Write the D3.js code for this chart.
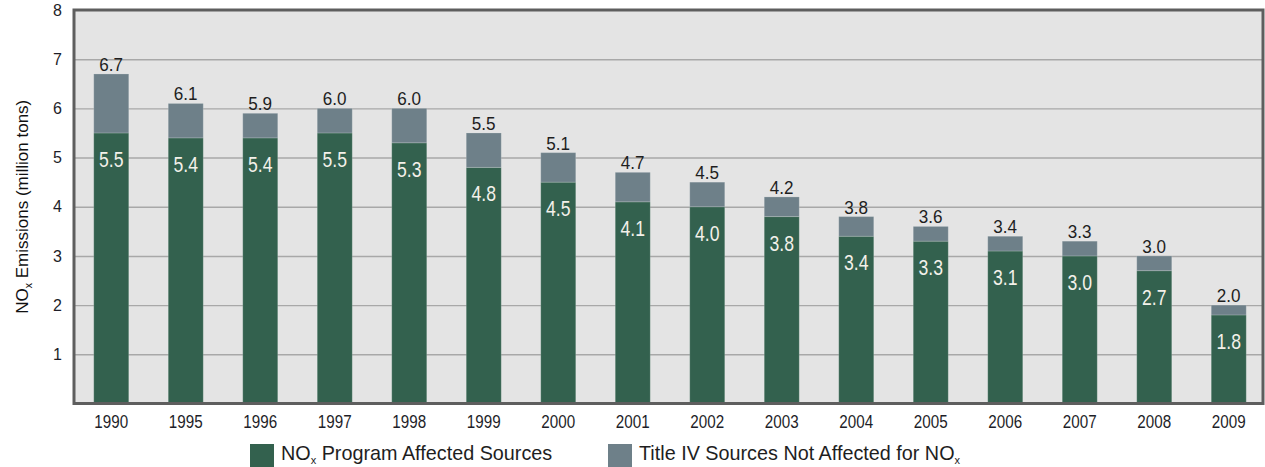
<!DOCTYPE html>
<html>
<head>
<meta charset="utf-8">
<script src="https://cdn.jsdelivr.net/npm/d3@7"></script>
<style>
  html, body { margin: 0; background: #ffffff; }
  svg { display: block; }
  text { font-family: "Liberation Sans", Arial, "DejaVu Sans", sans-serif; }
</style>
</head>
<body>
<svg id="chart" width="1265" height="467"></svg>
<script>
// NOx emissions by year (million tons)
const years = ["1990", "1995", "1996", "1997", "1998", "1999", "2000", "2001",
               "2002", "2003", "2004", "2005", "2006", "2007", "2008", "2009"];
// NOx Program affected sources
const programSources = [5.5, 5.4, 5.4, 5.5, 5.3, 4.8, 4.5, 4.1, 4.0, 3.8, 3.4, 3.3, 3.1, 3.0, 2.7, 1.8];
// Title IV sources not affected for NOx
const otherSources = [1.2, 0.7, 0.5, 0.5, 0.7, 0.7, 0.6, 0.6, 0.5, 0.4, 0.4, 0.3, 0.3, 0.3, 0.3, 0.2];
const yTicks = [1, 2, 3, 4, 5, 6, 7, 8];
const seriesKeys = ["program", "other"];
const seriesColors = { program: "#33614E", other: "#6E8089" };

const rows = years.map((y, i) => ({ year: y, program: programSources[i], other: otherSources[i] }));
const stacked = d3.stack().keys(seriesKeys)(rows);

const svg = d3.select("#chart");
const plot = { left: 74, right: 1263, top: 10, bottom: 403.5 };

const x = d3.scaleBand()
  .domain(years)
  .range([plot.left, 1266])
  .paddingInner(0.53)
  .paddingOuter(0.265);

const y = d3.scaleLinear()
  .domain([0, 8])
  .range([plot.bottom, plot.top]);

// plot background
svg.append("rect")
  .attr("x", plot.left).attr("y", plot.top)
  .attr("width", plot.right - plot.left).attr("height", plot.bottom - plot.top)
  .attr("fill", "#E4E4E4");

// horizontal gridlines
const grid = svg.append("g")
  .attr("transform", `translate(${plot.left},0)`)
  .call(d3.axisLeft(y).tickValues(yTicks.slice(0, -1)).tickSize(-(plot.right - plot.left)).tickFormat(""));
grid.select(".domain").remove();
grid.selectAll("line").attr("stroke", "#A8A8A8").attr("stroke-width", 1.4);

// stacked bars
svg.append("g")
  .selectAll("g")
  .data(stacked)
  .join("g")
  .attr("fill", d => seriesColors[d.key])
  .selectAll("rect")
  .data(d => d)
  .join("rect")
  .attr("x", d => x(d.data.year))
  .attr("width", x.bandwidth())
  .attr("y", d => y(d[1]))
  .attr("height", d => y(d[0]) - y(d[1]))
  .attr("stroke", "rgba(255,255,255,0.18)")
  .attr("stroke-width", 1);

// frame
svg.append("rect")
  .attr("x", plot.left).attr("y", plot.top)
  .attr("width", plot.right - plot.left).attr("height", plot.bottom - plot.top)
  .attr("fill", "none")
  .attr("stroke", "#5E5E5E")
  .attr("stroke-width", 3);

// helper for horizontally condensed text
function label(g, tx, ty, str, size, sx, fill, anchor) {
  return g.append("text")
    .attr("transform", `translate(${tx},${ty}) scale(${sx},1)`)
    .attr("text-anchor", anchor || "middle")
    .attr("font-size", size)
    .attr("fill", fill)
    .text(str);
}

// y axis tick labels
const yAxis = svg.append("g")
  .attr("transform", `translate(${plot.left - 12},0)`)
  .call(d3.axisLeft(y).tickValues(yTicks).tickSize(0).tickPadding(0).tickFormat(d3.format("d")));
yAxis.select(".domain").remove();
yAxis.selectAll("text")
  .attr("font-size", 16)
  .attr("fill", "#1E1E28")
  .attr("font-family", "'Liberation Sans', Arial, sans-serif");

// x axis tick labels
const xAxis = svg.append("g")
  .attr("transform", `translate(0,${plot.bottom})`)
  .call(d3.axisBottom(x).tickSize(0).tickPadding(0));
xAxis.select(".domain").remove();
xAxis.selectAll("text").remove();
xAxis.selectAll(".tick").each(function (d) {
  label(d3.select(this), 0, 24, d, 19, 0.8, "#1E1E28");
});

// value labels
const labels = svg.append("g");
rows.forEach(r => {
  const cx = x(r.year) + x.bandwidth() / 2;
  const total = r.program + r.other;
  label(labels, cx, y(total) - 3, total.toFixed(1), 18, 0.95, "#1E1E1E");
  label(labels, cx, y(r.program) + 34, r.program.toFixed(1), 22, 0.8, "#F4F1EA");
});

// y axis title
const yTitle = svg.append("text")
  .attr("transform", `translate(28,${(plot.top + plot.bottom) / 2}) rotate(-90)`)
  .attr("text-anchor", "middle")
  .attr("font-size", 17)
  .attr("fill", "#111");
yTitle.append("tspan").text("NO");
yTitle.append("tspan").attr("font-size", 10.5).attr("dy", 4).text("x");
yTitle.append("tspan").attr("dy", -4).text(" Emissions (million tons)");

// legend
const legendItems = [
  { key: "program", x: 250, parts: [["NO", 0], ["x", 1], [" Program Affected Sources", 0]] },
  { key: "other", x: 608, parts: [["Title IV Sources Not Affected for NO", 0], ["x", 1]] }
];
const legend = svg.append("g");
legendItems.forEach(item => {
  legend.append("rect")
    .attr("x", item.x).attr("y", 444)
    .attr("width", 24).attr("height", 23)
    .attr("fill", seriesColors[item.key]);
  const t = legend.append("text")
    .attr("x", item.x + 31).attr("y", 460)
    .attr("font-size", 19.8)
    .attr("fill", "#1E1E1E");
  let shifted = false;
  item.parts.forEach(([s, sub]) => {
    const ts = t.append("tspan").text(s);
    if (sub) { ts.attr("font-size", 11).attr("dy", 3.5); shifted = true; }
    else if (shifted) { ts.attr("dy", -3.5); shifted = false; }
  });
});
</script>
</body>
</html>
